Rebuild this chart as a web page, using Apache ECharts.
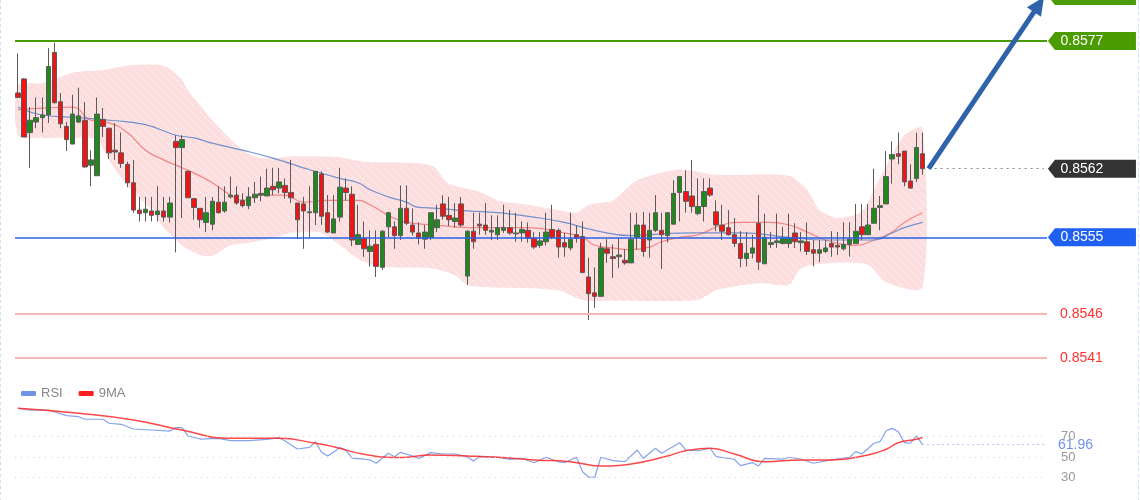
<!DOCTYPE html>
<html><head><meta charset="utf-8">
<script src="https://cdn.jsdelivr.net/npm/echarts/dist/echarts.min.js"></script>
<style>html,body{margin:0;padding:0;background:#ffffff}#c{width:1140px;height:500px}</style>
</head><body><div id="c"></div><script>
// ---------- DATA ----------
const slotCount = 170; // candle slots incl. empty right margin
const categories = Array.from({length: slotCount}, (_, i) => String(i + 1));
// [open, close, low, high]
const candles = [
[0.85711,0.85706,0.85705,0.85756],[0.85727,0.85661,0.85661,0.85728],[0.85666,0.85680,0.85626,0.85695],[0.85678,0.85683,0.85671,0.85706],[0.85683,0.85686,0.85666,0.85706],
[0.85686,0.85741,0.85677,0.85762],[0.85757,0.85700,0.85699,0.85768],[0.85701,0.85676,0.85671,0.85711],[0.85673,0.85658,0.85645,0.85678],[0.85653,0.85687,0.85653,0.85709],
[0.85678,0.85685,0.85677,0.85717],[0.85680,0.85627,0.85626,0.85701],[0.85629,0.85635,0.85605,0.85646],[0.85617,0.85687,0.85617,0.85706],[0.85681,0.85673,0.85661,0.85694],
[0.85671,0.85643,0.85636,0.85671],[0.85646,0.85644,0.85635,0.85677],[0.85643,0.85631,0.85626,0.85666],[0.85630,0.85609,0.85604,0.85633],[0.85609,0.85578,0.85575,0.85635],
[0.85578,0.85574,0.85565,0.85593],[0.85575,0.85579,0.85565,0.85593],[0.85577,0.85572,0.85565,0.85593],[0.85573,0.85577,0.85565,0.85605],[0.85577,0.85570,0.85565,0.85593],
[0.85570,0.85586,0.85564,0.85593],[0.85656,0.85649,0.85530,0.85663],[0.85649,0.85658,0.85569,0.85663],[0.85622,0.85592,0.85592,0.85623],[0.85591,0.85581,0.85567,0.85591],
[0.85580,0.85567,0.85558,0.85580],[0.85564,0.85575,0.85553,0.85593],[0.85562,0.85588,0.85555,0.85593],[0.85587,0.85575,0.85574,0.85605],[0.85577,0.85587,0.85575,0.85605],
[0.85593,0.85595,0.85591,0.85616],[0.85595,0.85586,0.85584,0.85605],[0.85589,0.85583,0.85581,0.85597],[0.85583,0.85593,0.85579,0.85604],[0.85592,0.85596,0.85586,0.85610],
[0.85595,0.85597,0.85588,0.85616],[0.85594,0.85603,0.85594,0.85625],[0.85605,0.85601,0.85595,0.85626],[0.85603,0.85610,0.85597,0.85626],[0.85606,0.85598,0.85591,0.85614],
[0.85598,0.85592,0.85586,0.85635],[0.85586,0.85567,0.85545,0.85586],[0.85585,0.85577,0.85534,0.85593],[0.85575,0.85576,0.85547,0.85605],[0.85575,0.85622,0.85561,0.85622],
[0.85619,0.85571,0.85561,0.85622],[0.85575,0.85553,0.85552,0.85595],[0.85552,0.85568,0.85552,0.85595],[0.85570,0.85604,0.85565,0.85626],[0.85603,0.85598,0.85589,0.85614],
[0.85596,0.85544,0.85537,0.85605],[0.85539,0.85550,0.85539,0.85584],[0.85546,0.85534,0.85525,0.85565],[0.85531,0.85537,0.85514,0.85555],[0.85539,0.85514,0.85502,0.85555],
[0.85513,0.85554,0.85510,0.85555],[0.85559,0.85575,0.85547,0.85576],[0.85559,0.85549,0.85534,0.85565],[0.85549,0.85580,0.85544,0.85606],[0.85580,0.85563,0.85561,0.85606],
[0.85561,0.85553,0.85549,0.85580],[0.85552,0.85546,0.85539,0.85564],[0.85545,0.85553,0.85534,0.85561],[0.85547,0.85575,0.85544,0.85575],[0.85558,0.85567,0.85553,0.85584],
[0.85585,0.85571,0.85567,0.85595],[0.85572,0.85567,0.85560,0.85593],[0.85565,0.85569,0.85558,0.85586],[0.85585,0.85561,0.85559,0.85593],[0.85503,0.85554,0.85493,0.85555],
[0.85554,0.85542,0.85534,0.85575],[0.85562,0.85560,0.85550,0.85575],[0.85561,0.85555,0.85550,0.85586],[0.85553,0.85555,0.85544,0.85572],[0.85550,0.85558,0.85544,0.85572],
[0.85555,0.85558,0.85552,0.85584],[0.85558,0.85552,0.85550,0.85578],[0.85551,0.85552,0.85542,0.85575],[0.85552,0.85556,0.85542,0.85565],[0.85555,0.85546,0.85541,0.85564],
[0.85546,0.85536,0.85534,0.85553],[0.85538,0.85543,0.85535,0.85553],[0.85542,0.85553,0.85538,0.85575],[0.85556,0.85547,0.85545,0.85584],[0.85555,0.85536,0.85524,0.85557],
[0.85541,0.85536,0.85525,0.85552],[0.85535,0.85545,0.85532,0.85575],[0.85550,0.85546,0.85541,0.85561],[0.85548,0.85507,0.85507,0.85565],[0.85502,0.85483,0.85453,0.85524],
[0.85484,0.85480,0.85467,0.85513],[0.85480,0.85535,0.85480,0.85541],[0.85534,0.85529,0.85518,0.85545],[0.85525,0.85523,0.85501,0.85539],[0.85525,0.85527,0.85512,0.85546],
[0.85521,0.85518,0.85516,0.85534],[0.85518,0.85545,0.85518,0.85575],[0.85547,0.85561,0.85533,0.85575],[0.85561,0.85531,0.85525,0.85576],[0.85544,0.85555,0.85524,0.85575],
[0.85555,0.85575,0.85553,0.85595],[0.85555,0.85550,0.85511,0.85575],[0.85549,0.85575,0.85541,0.85575],[0.85562,0.85597,0.85562,0.85612],[0.85598,0.85616,0.85565,0.85616],
[0.85599,0.85588,0.85575,0.85623],[0.85594,0.85582,0.85575,0.85635],[0.85574,0.85582,0.85572,0.85614],[0.85582,0.85599,0.85565,0.85614],[0.85603,0.85595,0.85593,0.85614],
[0.85576,0.85561,0.85554,0.85589],[0.85561,0.85554,0.85544,0.85584],[0.85558,0.85550,0.85549,0.85578],[0.85550,0.85540,0.85536,0.85569],[0.85540,0.85523,0.85513,0.85554],
[0.85523,0.85529,0.85514,0.85553],[0.85529,0.85535,0.85523,0.85550],[0.85563,0.85519,0.85510,0.85595],[0.85517,0.85547,0.85517,0.85574],[0.85539,0.85541,0.85535,0.85553],
[0.85541,0.85543,0.85535,0.85574],[0.85540,0.85546,0.85539,0.85559],[0.85540,0.85546,0.85535,0.85574],[0.85552,0.85542,0.85535,0.85563],[0.85541,0.85543,0.85531,0.85553],
[0.85542,0.85531,0.85527,0.85564],[0.85533,0.85529,0.85514,0.85544],[0.85529,0.85533,0.85519,0.85544],[0.85531,0.85535,0.85529,0.85544],[0.85540,0.85536,0.85525,0.85554],
[0.85538,0.85536,0.85527,0.85553],[0.85534,0.85539,0.85532,0.85564],[0.85539,0.85545,0.85525,0.85564],[0.85540,0.85554,0.85540,0.85585],[0.85559,0.85550,0.85544,0.85585],
[0.85550,0.85561,0.85550,0.85585],[0.85563,0.85580,0.85563,0.85625],[0.85581,0.85583,0.85555,0.85594],[0.85585,0.85616,0.85585,0.85645],[0.85636,0.85641,0.85608,0.85656],
[0.85642,0.85639,0.85630,0.85666],[0.85645,0.85610,0.85605,0.85645],[0.85611,0.85603,0.85602,0.85630],[0.85614,0.85649,0.85610,0.85666],[0.85642,0.85625,0.85618,0.85666]
];
// Bollinger band edges and moving averages: [candle index, price]
const bbUpper = [[0,0.85720],[4,0.85722],[9,0.85734],[14,0.85737],[18,0.85742],[24,0.85742],[27,0.85726],[28,0.85714],[32,0.85680],[37,0.85646],[40,0.85637],[46,0.85639],[53,0.85638],[57,0.85633],[68,0.85629],[71,0.85608],[76,0.85599],[79,0.85589],[84,0.85584],[89,0.85578],[92,0.85575],[94,0.85584],[98,0.85589],[102,0.85612],[109,0.85624],[115,0.85618],[127,0.85617],[130,0.85601],[132,0.85578],[135,0.85569],[139,0.85576],[141,0.85601],[144,0.85641],[146,0.85663],[149,0.85671]];
const bbLower = [[0,0.85663],[4,0.85660],[9,0.85660],[13,0.85658],[15,0.85635],[18,0.85606],[22,0.85578],[24,0.85558],[27,0.85538],[30,0.85527],[32,0.85526],[35,0.85538],[38,0.85541],[42,0.85546],[45,0.85552],[50,0.85552],[54,0.85533],[57,0.85519],[61,0.85513],[68,0.85512],[72,0.85504],[74,0.85493],[79,0.85490],[89,0.85487],[93,0.85476],[99,0.85475],[112,0.85476],[115,0.85487],[122,0.85495],[127,0.85493],[129,0.85512],[134,0.85518],[140,0.85516],[143,0.85496],[149,0.85490]];
const maFast = [[0,0.85692],[5,0.85694],[9,0.85695],[12,0.85680],[15,0.85677],[18,0.85666],[21,0.85646],[24,0.85635],[27,0.85626],[29,0.85620],[32,0.85609],[35,0.85595],[37,0.85589],[40,0.85595],[44,0.85595],[47,0.85587],[51,0.85589],[56,0.85589],[58,0.85584],[61,0.85572],[64,0.85564],[69,0.85561],[72,0.85559],[76,0.85558],[84,0.85558],[90,0.85552],[93,0.85547],[95,0.85538],[98,0.85535],[101,0.85533],[104,0.85536],[106,0.85542],[109,0.85547],[112,0.85550],[116,0.85561],[119,0.85564],[124,0.85564],[127,0.85561],[130,0.85553],[133,0.85544],[136,0.85539],[138,0.85538],[141,0.85544],[144,0.85553],[146,0.85564],[149,0.85575]];
const maSlow = [[0,0.85695],[4,0.85686],[10,0.85683],[15,0.85680],[21,0.85675],[26,0.85663],[29,0.85660],[32,0.85654],[37,0.85646],[42,0.85637],[47,0.85626],[53,0.85614],[56,0.85609],[58,0.85601],[61,0.85593],[64,0.85587],[66,0.85581],[69,0.85580],[74,0.85577],[79,0.85575],[85,0.85570],[90,0.85564],[95,0.85555],[101,0.85549],[106,0.85551],[111,0.85552],[119,0.85552],[127,0.85547],[133,0.85544],[141,0.85544],[144,0.85552],[146,0.85558],[149,0.85564]];
// RSI panel: [candle index, value]
const rsiValues = [[0,97.5],[2,95.8],[5,95.8],[8,90.3],[10,89.3],[11,86.8],[14,86.8],[15,82.9],[17,81.9],[19,77.3],[22,76.3],[25,75.3],[26,78.6],[27,78.6],[28,70.5],[30,67.5],[33,68.2],[35,65.9],[38,65.9],[41,67.2],[43,68.8],[44,65.6],[46,57.8],[48,59.4],[49,64.9],[50,54.6],[51,51.0],[53,59.1],[54,56.9],[55,48.8],[57,47.8],[58,47.1],[59,43.9],[61,53.7],[62,50.3],[63,54.5],[65,50.9],[66,48.6],[68,54.2],[70,52.9],[72,52.9],[74,50.3],[75,46.1],[76,50.3],[79,49.7],[81,47.7],[83,48.7],[85,44.4],[87,49.7],[89,45.3],[90,44.4],[92,49.7],[93,35.6],[94,30.2],[95,30.2],[96,49.7],[98,46.4],[100,45.4],[102,56.8],[103,48.7],[105,58.5],[106,53.6],[109,63.9],[110,56.8],[112,56.1],[114,58.5],[115,50.3],[118,47.8],[119,41.5],[121,44.4],[122,41.2],[123,48.7],[126,47.8],[127,49.7],[129,47.8],[131,43.9],[134,47.1],[137,49.7],[138,55.2],[139,52.9],[141,63.4],[142,64.9],[143,75.6],[144,77.9],[145,74.7],[146,64.0],[147,63.4],[148,70.5],[149,61.96]];
const rsiMA = [[0,97.5],[10,92.6],[19,86.1],[27,76.3],[35,68.2],[43,68.2],[49,63.4],[52,60.0],[57,52.6],[63,49.5],[68,52.0],[74,51.0],[79,49.7],[85,47.1],[91,45.4],[96,41.2],[101,43.2],[107,51.0],[110,56.1],[114,58.5],[118,52.9],[123,45.4],[129,47.1],[134,47.1],[140,52.0],[143,57.5],[145,63.9],[148,67.2],[149,69.1]];
const rsiLevels = [70, 50, 30];
const rsiLast = 61.96;
// Price levels
const resistanceLevel = 0.8577, resistanceLabel = '0.8577';
const targetLevel = 0.8582;
const supportLevel = 0.85547, supportLabel = '0.8555';
const lowerLevels = [0.8546, 0.8541], lowerLabels = ['0.8546', '0.8541'];
const lastPriceLabel = '0.8562';

// ---------- CHART ----------
const FONT = 'Liberation Sans, Arial, sans-serif';
const GREEN = '#4a9c02';
const lastIdx = candles.length - 1;
const lastClose = candles[lastIdx][1];
const endSlot = slotCount - 1;
const tagPath = 'path://M0,9 L7,0 L88,0 L88,18 L7,18 Z';
function tag(value, text, color) {
  return {
    coord: [endSlot, value], symbol: tagPath, symbolSize: [88, 18], symbolOffset: [48, 0],
    itemStyle: {color: color},
    label: {show: true, position: 'inside', formatter: text, color: '#ffffff', fontSize: 14, fontFamily: FONT, offset: [-10, 0]}
  };
}
function levelLabel(text) {
  return {show: true, position: 'end', distance: 13, formatter: text, color: '#ff3030', fontSize: 14, fontFamily: FONT};
}
// dotted texture for the band
const tile = document.createElement('canvas');
tile.width = 8; tile.height = 8;
(function () {
  const g = tile.getContext('2d');
  g.fillStyle = 'rgb(252,222,222)'; g.fillRect(0, 0, 8, 8);
  g.fillStyle = 'rgba(255,255,255,0.85)';
  [[0, 0], [2, 2], [4, 4], [6, 6]].forEach(p => g.fillRect(p[0], p[1], 1, 1));
})();

const chart = echarts.init(document.getElementById('c'), null, {renderer: 'canvas'});
const option = {
  animation: false,
  backgroundColor: '#ffffff',
  textStyle: {fontFamily: FONT},
  grid: [
    {left: 15, top: 0, width: 1032, height: 380},
    {left: 15, top: 400, width: 1032, height: 100}
  ],
  xAxis: [
    {type: 'category', data: categories, gridIndex: 0, show: false, boundaryGap: true},
    {type: 'category', data: categories, gridIndex: 1, show: false, boundaryGap: true}
  ],
  yAxis: [
    {type: 'value', gridIndex: 0, min: 0.853850, max: 0.858166, show: false, splitLine: {show: false}},
    {type: 'value', gridIndex: 1, min: 8, max: 105.6, show: false, splitLine: {show: false}}
  ],
  legend: {
    data: ['RSI', '9MA'], left: 16, top: 382, icon: 'roundRect', itemWidth: 15, itemHeight: 5,
    itemGap: 16, textStyle: {color: '#888888', fontSize: 13, fontFamily: FONT}, selectedMode: false
  },
  series: [
    {
      type: 'custom', name: 'band', xAxisIndex: 0, yAxisIndex: 0, silent: true, z: 1,
      data: [[0, bbUpper[0][1]]],
      renderItem: function (params, api) {
        const pts = [];
        bbUpper.forEach(p => pts.push(api.coord(p)));
        bbLower.slice().reverse().forEach(p => pts.push(api.coord(p)));
        return {type: 'polygon', shape: {points: pts, smooth: 0.25}, style: {fill: {image: tile, repeat: 'repeat'}}};
      }
    },
    {type: 'line', name: 'maFast', xAxisIndex: 0, yAxisIndex: 0, data: maFast, smooth: true, showSymbol: false, silent: true, z: 2,
      lineStyle: {color: 'rgba(240,110,110,0.8)', width: 1.2}},
    {type: 'line', name: 'maSlow', xAxisIndex: 0, yAxisIndex: 0, data: maSlow, smooth: true, showSymbol: false, silent: true, z: 2,
      lineStyle: {color: 'rgba(90,130,205,0.85)', width: 1.2}},
    {
      type: 'candlestick', name: 'price', xAxisIndex: 0, yAxisIndex: 0, data: candles, barWidth: 5, clip: false, z: 3,
      itemStyle: {color: '#1f8a1c', color0: '#f01414', borderColor: '#5a5a5a', borderColor0: '#5a5a5a', borderWidth: 1},
      markLine: {
        silent: true, symbol: ['none', 'none'], animation: false, precision: 6,
        data: [
          {yAxis: resistanceLevel, lineStyle: {color: '#4a9a02', width: 2, type: 'solid'}, label: {show: false}},
          {yAxis: supportLevel, lineStyle: {color: '#2a62e4', width: 1.5, type: 'solid'}, label: {show: false}},
          {yAxis: lowerLevels[0], lineStyle: {color: '#f7b5b5', width: 2, type: 'solid'}, label: levelLabel(lowerLabels[0])},
          {yAxis: lowerLevels[1], lineStyle: {color: '#f7b5b5', width: 2, type: 'solid'}, label: levelLabel(lowerLabels[1])},
          [{coord: [lastIdx + 1, lastClose]},
           {coord: [endSlot, lastClose], lineStyle: {color: '#8a8a8a', width: 1.2, type: [2, 4]}, label: {show: false}}]
        ]
      },
      markPoint: {
        silent: true, animation: false,
        data: [
          tag(resistanceLevel, resistanceLabel, GREEN),
          tag(lastClose, lastPriceLabel, '#333333'),
          tag(supportLevel, supportLabel, '#1f5ff2')
        ]
      }
    },
    {
      type: 'line', name: 'RSI', xAxisIndex: 1, yAxisIndex: 1, data: rsiValues, showSymbol: false, silent: true, z: 3,
      itemStyle: {color: '#6f93e6'}, lineStyle: {color: 'rgba(111,147,230,0.85)', width: 1.2},
      markLine: {
        silent: true, symbol: ['none', 'none'], animation: false, precision: 2,
        data: rsiLevels.map(v => ({
          yAxis: v, lineStyle: {color: '#eec3c3', width: 1, type: [1, 5]},
          label: {show: true, position: 'end', distance: 14, formatter: String(v), color: '#999999', fontSize: 13, fontFamily: FONT}
        })).concat([[
          {coord: [lastIdx, rsiLast]},
          {coord: [endSlot, rsiLast], lineStyle: {color: '#7b9be6', width: 1.2, type: [1, 4]},
            label: {show: true, position: 'end', distance: 14, formatter: rsiLast.toFixed(2), color: '#6f93e6', fontSize: 14, fontFamily: FONT}}
        ]])
      }
    },
    {
      type: 'line', name: '9MA', xAxisIndex: 1, yAxisIndex: 1, data: rsiMA, smooth: true, showSymbol: false, silent: true, z: 4,
      itemStyle: {color: '#ff1f1f'}, lineStyle: {color: 'rgba(255,40,40,0.85)', width: 1.5}
    }
  ]
};
chart.setOption(option);

// Target arrow and the (mostly off-screen) target tag, positioned via the chart's own scales
const p0 = chart.convertToPixel({gridIndex: 0}, [lastIdx + 1, lastClose]);
const p1 = chart.convertToPixel({gridIndex: 0}, [endSlot, targetLevel]);
const dx = p1[0] - p0[0], dy = p1[1] - p0[1];
const len = Math.sqrt(dx * dx + dy * dy), ux = dx / len, uy = dy / len;
const headLen = 18, headHalf = 8.5;
const base = [p1[0] - ux * headLen, p1[1] - uy * headLen];
const tagLeft = p1[0] + 4;
chart.setOption({
  graphic: [
    {type: 'line', silent: true, z: 20, shape: {x1: p0[0], y1: p0[1], x2: base[0] + ux * 2, y2: base[1] + uy * 2},
      style: {stroke: '#2e62ab', lineWidth: 5, lineCap: 'butt'}},
    {type: 'polygon', silent: true, z: 20, shape: {points: [p1, [base[0] - uy * headHalf, base[1] + ux * headHalf], [base[0] + uy * headHalf, base[1] - ux * headHalf]]},
      style: {fill: '#2e62ab'}},
    {type: 'polygon', silent: true, z: 20, shape: {points: [[tagLeft, p1[1] - 1], [tagLeft + 7, p1[1] - 10], [tagLeft + 88, p1[1] - 10], [tagLeft + 88, p1[1] + 8], [tagLeft + 7, p1[1] + 8]]},
      style: {fill: GREEN}},
    {type: 'line', silent: true, z: 20, shape: {x1: 0.5, y1: 0, x2: 0.5, y2: 500}, style: {stroke: '#d5dcec', lineWidth: 1, lineDash: [3, 3]}},
    {type: 'line', silent: true, z: 20, shape: {x1: 1138.5, y1: 0, x2: 1138.5, y2: 500}, style: {stroke: '#d5dcec', lineWidth: 1, lineDash: [3, 3]}}
  ]
});
</script></body></html>
